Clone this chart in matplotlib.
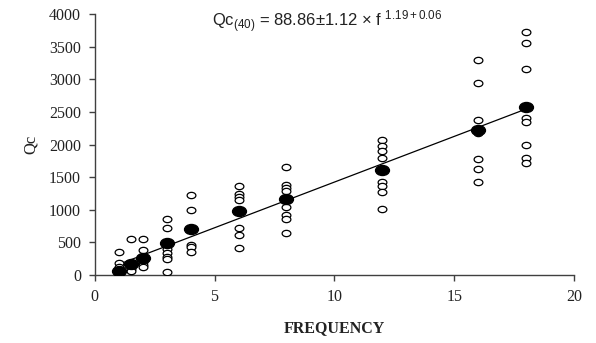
import numpy as np
import matplotlib
matplotlib.use("Agg")
import matplotlib.pyplot as plt
from matplotlib.path import Path
from matplotlib.transforms import Affine2D

# Data
freq_levels = [1, 1.5, 2, 3, 4, 6, 8, 12, 16, 18]
obs_values = [
    [360, 180, 120, 80, 50, 20],
    [550, 180, 130, 100, 60],
    [560, 380, 200, 160, 120],
    [860, 720, 400, 340, 280, 240, 50],
    [1220, 1000, 460, 430, 350],
    [1360, 1250, 1190, 1150, 720, 620, 420],
    [1650, 1380, 1340, 1290, 1050, 920, 860, 650],
    [2070, 1980, 1900, 1800, 1420, 1360, 1280, 1020],
    [3300, 2950, 2370, 2170, 1780, 1620, 1430],
    [3720, 3560, 3160, 2400, 2350, 2000, 1800, 1720],
]
mean_values = [70, 170, 260, 490, 710, 980, 1170, 1610, 2230, 2570]

x_ticks = [0, 5, 10, 15, 20]
y_ticks = [0, 500, 1000, 1500, 2000, 2500, 3000, 3500, 4000]

fig = plt.figure(figsize=(5.96, 3.43), dpi=100)
ax = fig.add_axes([0.159, 0.198, 0.804, 0.761])

# ellipse-shaped marker
ell = Path.unit_circle().transformed(Affine2D().scale(1.0, 0.72))

xs, ys = [], []
for f, vals in zip(freq_levels, obs_values):
    xs += [f] * len(vals)
    ys += vals
ax.plot(xs, ys, linestyle="none", marker=ell, markersize=6.3,
        markerfacecolor="white", markeredgecolor="black", markeredgewidth=0.9, zorder=3)

# trend line fitted to the means
fx = np.array(freq_levels, dtype=float)
fy = np.array(mean_values, dtype=float)
k, c = np.polyfit(fx, fy, 1)
lx = np.array([fx.min(), fx.max()])
ax.plot(lx, k * lx + c, color="black", linewidth=0.9, zorder=2)

ax.plot(freq_levels, mean_values, linestyle="none", marker=ell, markersize=10,
        markerfacecolor="black", markeredgecolor="black", zorder=4)

ax.set_xlim(0, 20)
ax.set_ylim(0, 4000)
ax.set_xticks(x_ticks)
ax.set_yticks(y_ticks)
for s in ["top", "right"]:
    ax.spines[s].set_visible(False)
for s in ["left", "bottom"]:
    ax.spines[s].set_color("#404040")
    ax.spines[s].set_linewidth(1.0)
    ax.spines[s].set_clip_on(False)
ax.tick_params(direction="out", length=4, width=1.0, color="#404040",
               labelsize=11.5, pad=6)
for lab in ax.get_xticklabels() + ax.get_yticklabels():
    lab.set_fontfamily("Liberation Serif")
    lab.set_color("#222222")

ax.set_xlabel("FREQUENCY", fontfamily="Liberation Serif", fontweight="bold",
              fontsize=11.5, labelpad=11, color="#222222")
ax.set_ylabel("Qc", fontfamily="Liberation Serif", fontsize=12, labelpad=7, color="#222222")

plt.rcParams["mathtext.fontset"] = "custom"
plt.rcParams["mathtext.rm"] = "Liberation Sans"
plt.rcParams["mathtext.it"] = "Liberation Sans"
ax.text(0.245, 0.972,
        r"$\mathregular{Qc_{(40)}}$ = 88.86" + "\u00b1" + r"1.12 $\mathregular{\times}$ f $\mathregular{^{1.19+0.06}}$",
        transform=ax.transAxes, fontfamily="Liberation Sans", fontsize=12,
        ha="left", va="center", color="#222222")

fig.savefig("out.png", dpi=100)
